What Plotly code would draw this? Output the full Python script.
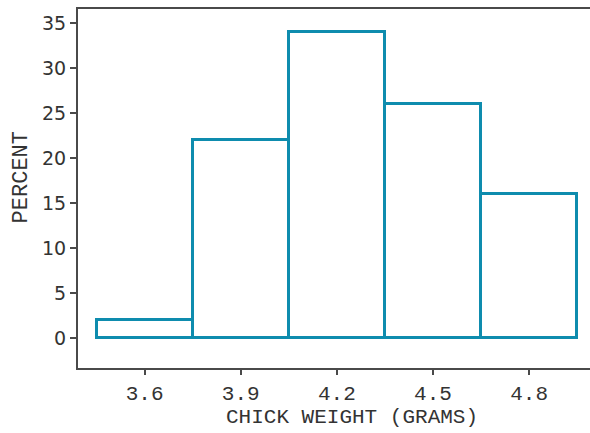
import plotly.graph_objects as go

bin_centers = [3.6, 3.9, 4.2, 4.5, 4.8]
percent = [2, 22, 34, 26, 16]
bin_width = 0.3
x_ticks = [3.6, 3.9, 4.2, 4.5, 4.8]
x_tick_labels = ["3.6", "3.9", "4.2", "4.5", "4.8"]
y_ticks = [0, 5, 10, 15, 20, 25, 30, 35]
x_title = "CHICK WEIGHT (GRAMS)"
y_title = "PERCENT"

bar_color = "#0e8cae"
axis_color = "#4a4a4a"
text_color = "#333333"
mono = "Courier New, Courier, Nimbus Mono PS, FreeMono, Liberation Mono, monospace"

fig = go.Figure(go.Bar(
    x=bin_centers,
    y=percent,
    width=[bin_width] * len(bin_centers),
    marker=dict(color="white", line=dict(color=bar_color, width=3)),
    showlegend=False,
))

fig.update_layout(
    width=590, height=433,
    margin=dict(l=78, r=0, t=9, b=65),
    paper_bgcolor="white", plot_bgcolor="white",
    bargap=0,
    annotations=[
        dict(text=x_title, xref="paper", yref="paper", x=0.535, y=-0.139,
             xanchor="center", yanchor="middle", showarrow=False,
             font=dict(family=mono, size=21, color=text_color)),
        dict(text=y_title, xref="paper", yref="paper", x=-0.11, y=0.53,
             xanchor="center", yanchor="middle", showarrow=False, textangle=-90,
             font=dict(family=mono, size=22, color=text_color)),
    ],
)

fig.update_xaxes(
    range=[3.392, 4.99],
    tickvals=x_ticks, ticktext=x_tick_labels,
    ticks="outside", ticklen=5, tickwidth=1.5, tickcolor=axis_color,
    showline=True, linecolor=axis_color, linewidth=2, mirror=True,
    showgrid=False, zeroline=False,
    tickfont=dict(family=mono, size=21, color=text_color),
)

fig.update_yaxes(
    range=[-3.3, 36.6],
    tickvals=y_ticks,
    ticks="outside", ticklen=6, tickwidth=1.5, tickcolor=axis_color,
    showline=True, linecolor=axis_color, linewidth=2,
    showgrid=False, zeroline=False,
    tickfont=dict(family="DejaVu Sans, sans-serif", size=19, color=text_color),
)

fig.write_html("out.html")
